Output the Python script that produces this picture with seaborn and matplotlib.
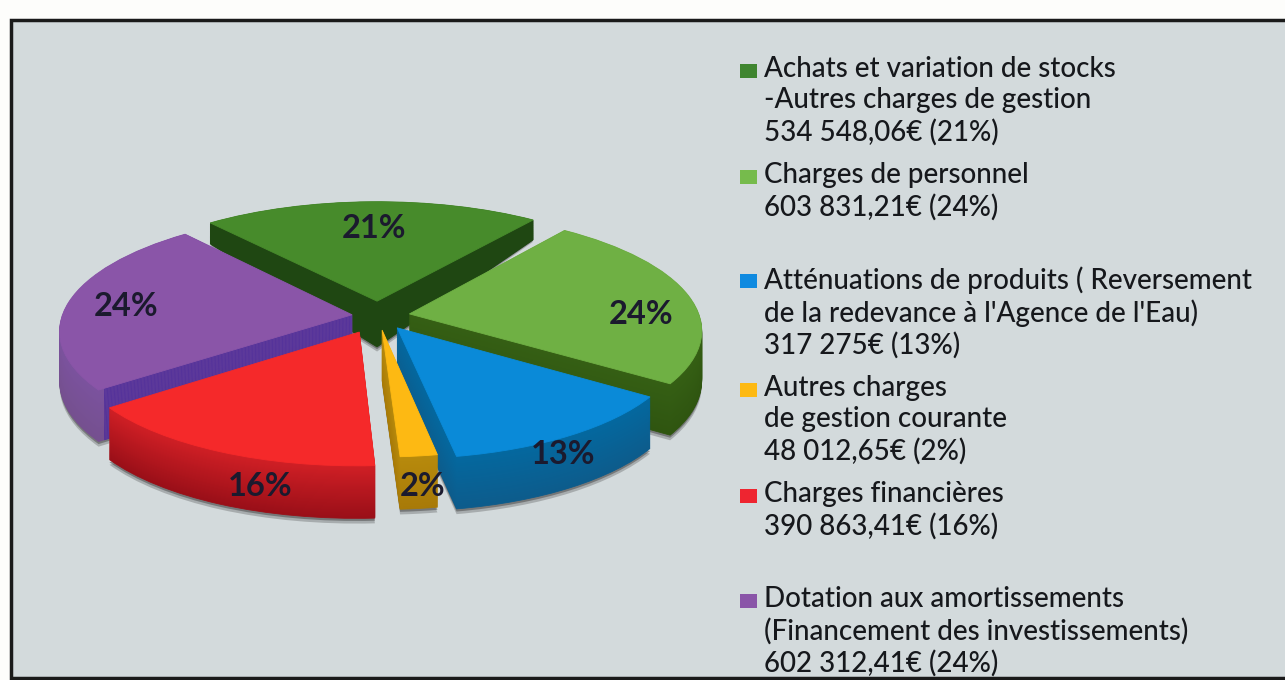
import numpy as np
import matplotlib
matplotlib.use("Agg")
import matplotlib.pyplot as plt
from matplotlib.patches import Rectangle
from matplotlib.transforms import Transform
import seaborn as sns

# Euros per poste
VALUES = [534548.06, 603831.21, 317275, 48012.65, 390863.41, 602312.41]
PERCENT_LABELS = ["21%", "24%", "13%", "2%", "16%", "24%"]
LEGEND_LABELS = [
    "Achats et variation de stocks\n-Autres charges de gestion\n534 548,06€ (21%)",
    "Charges de personnel\n603 831,21€ (24%)",
    "Atténuations de produits ( Reversement\nde la redevance à l'Agence de l'Eau)\n317 275€ (13%)",
    "Autres charges\nde gestion courante\n48 012,65€ (2%)",
    "Charges financières\n390 863,41€ (16%)",
    "Dotation aux amortissements\n(Financement des investissements)\n602 312,41€ (24%)",
]
TOP_COLORS = ["#478b2b", "#6fb044", "#0a8ad8", "#fdb913", "#f5292a", "#8a55a8"]
WALL_TOP = ["#1f4712", "#355f14", "#04689f", "#b78a0c", "#cf1f25", "#7b529e"]
WALL_BOTTOM = ["#1f4712", "#2f5510", "#0d5c8c", "#a87a08", "#9a0f18", "#75508f"]
LEGEND_COLORS = ["#3f8530", "#76bb4c", "#0f8ae0", "#fdb913", "#ee2530", "#8a55a8"]
PURPLE_INNER = "#54329a"

# Layout, in pixels of the picture
LABEL_POS = [(374, 229), (641, 314), (563, 454), (423, 487), (260, 487), (126, 307)]
LEGEND_TOP = [68, 174, 278, 387, 493, 598]
PAINT_ORDER = [0, 5, 1, 2, 4, 3]
EXPLODE = [0.13, 0.11, 0.12, 0.12, 0.15, 0.09]
SCALE = [1, 1, 0.96, 0.93, 0.97, 1]
CX, CY, RX, RY, PERSP, DEPTH = 378, 316, 290, 116, 0.13, 50
LAYERS = 50
PURPLE = 5


class Tilt(Transform):
    """Lays a unit pie on the table, t=0 top face, t=1 bottom face."""
    input_dims = 2
    output_dims = 2

    def __init__(self, t):
        super().__init__()
        self.t = t

    def transform_non_affine(self, xy):
        xy = np.asarray(xy, dtype=float)
        u, v = xy[:, 0], xy[:, 1]
        p = 1 / (1 + PERSP * v)
        drop = DEPTH * self.t * (1 - 0.65 * np.clip(v, 0, 1) - 0.05 * np.clip(v, -1, 0))
        return np.column_stack((CX + RX * u * p, CY - RY * v * p + drop))


def draw_layer(ax, t, colors, z_of, alpha=None):
    wedges, _ = ax.pie(
        VALUES, colors=colors, explode=EXPLODE,
        startangle=130, counterclock=False,
    )
    for i, w in enumerate(wedges):
        w.set_radius(SCALE[i])
        w.set_transform(Tilt(t) + ax.transData)
        w.set_zorder(z_of(i))
        if alpha is None:
            w.set_edgecolor(colors[i])
            w.set_linewidth(0.6)
        else:
            w.set_alpha(alpha)
            w.set_linewidth(0)
    return wedges


sns.set_theme(style="white")
plt.rcParams["font.family"] = ["Lato", "DejaVu Sans"]

fig = plt.figure(figsize=(12.85, 6.8), dpi=100, facecolor="#fdfdfb")
ax = fig.add_axes([0, 0, 1, 1])

rank = {s: r for r, s in enumerate(PAINT_ORDER)}
walls = [sns.blend_palette([a, b], LAYERS) for a, b in zip(WALL_TOP, WALL_BOTTOM)]

# soft shadow under the whole pie
for t, a in [(1.1, 0.3), (1.05, 0.5)]:
    draw_layer(ax, t, ["#444444"] * 6, lambda i: 2, alpha=a)

# each slice is a stack of pies, deepest first, slices painted back to front
for k in range(LAYERS, 0, -1):
    t = k / LAYERS
    cols = [walls[s][k - 1] for s in range(6)]
    draw_layer(ax, t, cols, lambda i, k=k: 10 + rank[i] * 100 + (LAYERS - k))

# the cut side of the purple slice is darker than its outer side
# (pie turns clipping off on its wedges, so it has to be switched back on)
inner_clip = Rectangle((104, 100), 400, 500, transform=ax.transData)
for k in range(LAYERS, 0, -1):
    wedges = draw_layer(ax, k / LAYERS, [PURPLE_INNER] * 6,
                        lambda i, k=k: 10 + rank[i] * 100 + (LAYERS - k) + 0.5)
    for i, w in enumerate(wedges):
        w.set_visible(i == PURPLE)
        w.set_clip_on(True)
        w.set_clip_path(inner_clip.get_path(), inner_clip.get_transform())

draw_layer(ax, 0, TOP_COLORS, lambda i: 10 + rank[i] * 100 + LAYERS + 1)

ax.set_aspect("auto")
ax.set_xlim(0, 1285)
ax.set_ylim(680, 0)
ax.axis("off")

ax.add_patch(Rectangle((11, 20), 1300, 658, facecolor="#d3dadc",
                       edgecolor="#1a1a1a", linewidth=2.5, zorder=0))

for txt, (x, y) in zip(PERCENT_LABELS, LABEL_POS):
    ax.text(x, y, txt, ha="center", va="center", fontsize=23.5, fontweight="bold",
            color="#1b1a2e", zorder=1000)

for txt, y, c in zip(LEGEND_LABELS, LEGEND_TOP, LEGEND_COLORS):
    ax.add_patch(Rectangle((740, y - 4), 17, 14, facecolor=c, edgecolor="none", zorder=5))
    ax.text(764, y - 12, txt, ha="left", va="top", fontsize=20, fontweight="medium",
            color="#16181c", linespacing=1.24, zorder=1000)

fig.savefig("out.png", dpi=100)
plt.close(fig)
